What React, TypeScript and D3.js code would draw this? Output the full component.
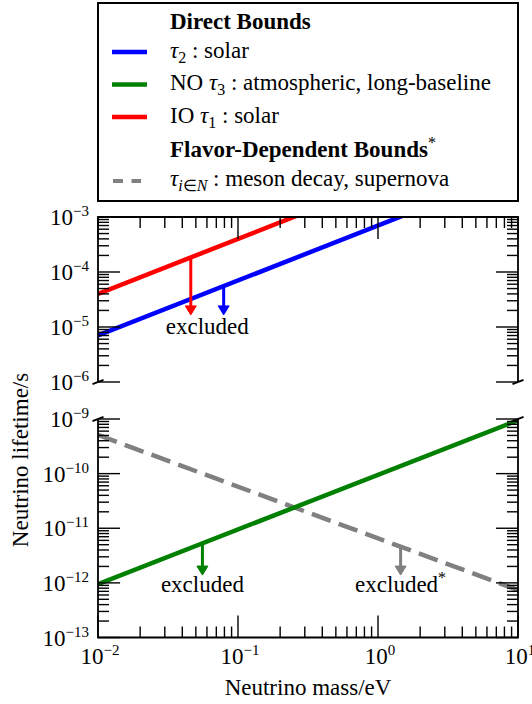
import React from 'react';
import * as d3 from 'd3';

// ---- data ----
const massDomain = [0.01, 10];
const topTauDomain = [1e-6, 1e-3];
const bottomTauDomain = [1e-13, 1e-9];

const massPoints = [0.01, 10];
const tau2Solar = [7.0e-6, 7.0e-3];
const tau1IOSolar = [4.0e-5, 4.0e-2];
const tau3NO = [9.5e-13, 9.5e-10];
const tauFlavor = [5.1e-10, 7.4e-13];

const topArrowMasses = [0.046, 0.079];
const topArrowTip = 1.66e-5;
const bottomArrowMasses = [0.0557, 1.45];
const bottomArrowTip = 1.39e-12;

const topLabelMass = 0.0603;
const topLabelTau = 7.5e-6;
const bottomLabelMasses = [0.0557, 1.45];
const bottomLabelTau = 6.8e-13;

const xTickExps = [-2, -1, 0, 1];
const topYTickExps = [-6, -5, -4, -3];
const bottomYTickExps = [-13, -12, -11, -10, -9];

const BLUE = '#0000ff';
const GREEN = '#008000';
const RED = '#ff0000';
const GRAY = '#808080';
const FONT = '"Liberation Serif", "Times New Roman", serif';

// ---- layout ----
const W = 532, H = 704;
const X0 = 98, X1 = 518;
const TOP0 = 217, TOP1 = 382;
const BOT0 = 419, BOT1 = 637.5;

const x = d3.scaleLog().domain(massDomain).range([X0, X1]);
const yTop = d3.scaleLog().domain(topTauDomain).range([TOP1, TOP0]);
const yBot = d3.scaleLog().domain(bottomTauDomain).range([BOT1, BOT0]);

function logInterp(ms: number[], ts: number[], m: number) {
  const lm = ms.map(Math.log10), lt = ts.map(Math.log10);
  const t = (Math.log10(m) - lm[0]) / (lm[1] - lm[0]);
  return Math.pow(10, lt[0] + t * (lt[1] - lt[0]));
}

function logTicks(domain: number[]) {
  const out: { v: number; major: boolean }[] = [];
  const e0 = Math.floor(Math.log10(domain[0]) + 1e-9);
  const e1 = Math.ceil(Math.log10(domain[1]) - 1e-9);
  for (let e = e0; e <= e1; e++) {
    for (let k = 1; k <= 9; k++) {
      const v = k * Math.pow(10, e);
      if (v >= domain[0] * 0.9999 && v <= domain[1] * 1.0001) out.push({ v, major: k === 1 });
    }
  }
  return out;
}

function Arrow({ xp, y0, y1, color }: { xp: number; y0: number; y1: number; color: string }) {
  const hl = 9, hw = 5.5;
  return (
    <g>
      <line x1={xp} x2={xp} y1={y0} y2={y1 - hl + 1} stroke={color} strokeWidth={3} />
      <path d={`M${xp - hw},${y1 - hl} L${xp + hw},${y1 - hl} L${xp},${y1} Z`} fill={color} stroke={color} strokeWidth={1} strokeLinejoin="round" />
    </g>
  );
}

function TickLabel({ exp, xp, yp, anchor }: { exp: number; xp: number; yp: number; anchor: string }) {
  const s = exp < 0 ? '\u2212' + Math.abs(exp) : String(exp);
  return (
    <text x={xp} y={yp} textAnchor={anchor} fontFamily={FONT} fontSize={23}>
      10<tspan dy={-9} fontSize={15}>{s}</tspan>
    </text>
  );
}

export default function App() {
  const xTicks = logTicks(massDomain);
  const topYTicks = logTicks(topTauDomain);
  const botYTicks = logTicks(bottomTauDomain);

  const lineTop = d3.line<number>().x((_, i) => x(massPoints[i])).y((d) => yTop(d));
  const lineBot = d3.line<number>().x((_, i) => x(massPoints[i])).y((d) => yBot(d));

  const spine = { stroke: '#000', strokeWidth: 1.8, fill: 'none' };
  const tickW = 1.4;
  const MAJ = 22, MIN = 11;

  const brk = (cx: number, cy: number, k: string) => (
    <line key={k} x1={cx - 5.5} y1={cy + 2.2} x2={cx + 5.5} y2={cy - 2.2} stroke="#000" strokeWidth={1.8} />
  );

  return (
    <svg width={W} height={H} style={{ position: 'absolute', left: 0, top: 0, background: '#fff' }} xmlns="http://www.w3.org/2000/svg">
      <defs>
        <clipPath id="clipTop"><rect x={X0} y={TOP0} width={X1 - X0} height={TOP1 - TOP0} /></clipPath>
        <clipPath id="clipBot"><rect x={X0} y={BOT0} width={X1 - X0} height={BOT1 - BOT0} /></clipPath>
      </defs>
      <rect x={0} y={0} width={W} height={H} fill="#fff" />

      {/* ---- legend ---- */}
      <rect x={98} y={3} width={420} height={198} fill="#fff" stroke="#000" strokeWidth={2} />
      <g fontFamily={FONT} fontSize={23}>
        <text x={170} y={29} fontWeight="bold">Direct Bounds</text>

        <line x1={112} x2={147} y1={52} y2={52} stroke={BLUE} strokeWidth={4.5} />
        <text x={170} y={58}>
          <tspan fontStyle="italic">τ</tspan><tspan fontSize={16} dy={5}>2</tspan><tspan dy={-5}> : solar</tspan>
        </text>

        <line x1={112} x2={147} y1={84.5} y2={84.5} stroke={GREEN} strokeWidth={4.5} />
        <text x={170} y={90}>
          NO <tspan fontStyle="italic">τ</tspan><tspan fontSize={16} dy={5}>3</tspan><tspan dy={-5}> : atmospheric, long-baseline</tspan>
        </text>

        <line x1={112} x2={147} y1={117} y2={117} stroke={RED} strokeWidth={4.5} />
        <text x={170} y={122.5}>
          IO <tspan fontStyle="italic">τ</tspan><tspan fontSize={16} dy={5}>1</tspan><tspan dy={-5}> : solar</tspan>
        </text>

        <text x={170} y={157} fontWeight="bold">
          Flavor-Dependent Bounds<tspan fontSize={16} dy={-9} fontWeight="normal">*</tspan>
        </text>

        <line x1={113} x2={141} y1={181} y2={181} stroke={GRAY} strokeWidth={4} strokeDasharray="10 8.5" />
        <text x={170} y={186}>
          <tspan fontStyle="italic">τ</tspan><tspan fontSize={16} dy={5}><tspan fontStyle="italic">i</tspan>∈<tspan fontStyle="italic">N</tspan></tspan><tspan dy={-5}> : meson decay, supernova</tspan>
        </text>
      </g>

      {/* ---- top panel ---- */}
      <g clipPath="url(#clipTop)">
        <path d={lineTop(tau1IOSolar) || ''} stroke={RED} strokeWidth={4.5} fill="none" />
        <path d={lineTop(tau2Solar) || ''} stroke={BLUE} strokeWidth={4.5} fill="none" />
      </g>
      <Arrow xp={x(topArrowMasses[0])} y0={yTop(logInterp(massPoints, tau1IOSolar, topArrowMasses[0]))} y1={yTop(topArrowTip)} color={RED} />
      <Arrow xp={x(topArrowMasses[1])} y0={yTop(logInterp(massPoints, tau2Solar, topArrowMasses[1]))} y1={yTop(topArrowTip)} color={BLUE} />
      <text x={x(topLabelMass)} y={yTop(topLabelTau)} textAnchor="middle" fontFamily={FONT} fontSize={23}>excluded</text>

      {/* top ticks */}
      {xTicks.map((t, i) => (
        <line key={'xt' + i} x1={x(t.v)} x2={x(t.v)} y1={TOP0} y2={TOP0 + (t.major ? MAJ : MIN)} stroke="#000" strokeWidth={tickW} />
      ))}
      {topYTicks.map((t, i) => (
        <g key={'yt' + i}>
          <line x1={X0} x2={X0 + (t.major ? MAJ : MIN)} y1={yTop(t.v)} y2={yTop(t.v)} stroke="#000" strokeWidth={tickW} />
          <line x1={X1} x2={X1 - (t.major ? MAJ : MIN)} y1={yTop(t.v)} y2={yTop(t.v)} stroke="#000" strokeWidth={tickW} />
        </g>
      ))}
      <path d={`M${X0},${TOP1} L${X0},${TOP0} L${X1},${TOP0} L${X1},${TOP1}`} {...spine} />
      {brk(X0, TOP1, 'b1')}
      {brk(X1, TOP1, 'b2')}
      {topYTickExps.map((e) => (
        <TickLabel key={'tl' + e} exp={e} xp={89} yp={yTop(Math.pow(10, e)) + 8} anchor="end" />
      ))}

      {/* ---- bottom panel ---- */}
      <g clipPath="url(#clipBot)">
        <path d={lineBot(tauFlavor) || ''} stroke={GRAY} strokeWidth={4.5} fill="none" strokeDasharray="20 8.5" />
        <path d={lineBot(tau3NO) || ''} stroke={GREEN} strokeWidth={4.5} fill="none" />
      </g>
      <Arrow xp={x(bottomArrowMasses[0])} y0={yBot(logInterp(massPoints, tau3NO, bottomArrowMasses[0]))} y1={yBot(bottomArrowTip)} color={GREEN} />
      <Arrow xp={x(bottomArrowMasses[1])} y0={yBot(logInterp(massPoints, tauFlavor, bottomArrowMasses[1]))} y1={yBot(bottomArrowTip)} color={GRAY} />
      <text x={x(bottomLabelMasses[0])} y={yBot(bottomLabelTau)} textAnchor="middle" fontFamily={FONT} fontSize={23}>excluded</text>
      <text x={x(bottomLabelMasses[1])} y={yBot(bottomLabelTau)} textAnchor="middle" fontFamily={FONT} fontSize={23}>
        excluded<tspan fontSize={16} dy={-9}>*</tspan>
      </text>

      {xTicks.map((t, i) => (
        <line key={'xb' + i} x1={x(t.v)} x2={x(t.v)} y1={BOT1} y2={BOT1 - (t.major ? MAJ : MIN)} stroke="#000" strokeWidth={tickW} />
      ))}
      {botYTicks.map((t, i) => (
        <g key={'yb' + i}>
          <line x1={X0} x2={X0 + (t.major ? MAJ : MIN)} y1={yBot(t.v)} y2={yBot(t.v)} stroke="#000" strokeWidth={tickW} />
          <line x1={X1} x2={X1 - (t.major ? MAJ : MIN)} y1={yBot(t.v)} y2={yBot(t.v)} stroke="#000" strokeWidth={tickW} />
        </g>
      ))}
      <path d={`M${X0},${BOT0} L${X0},${BOT1} L${X1},${BOT1} L${X1},${BOT0}`} {...spine} />
      {brk(X0, BOT0, 'b3')}
      {brk(X1, BOT0, 'b4')}
      {bottomYTickExps.map((e) => (
        <TickLabel key={'bl' + e} exp={e} xp={89} yp={yBot(Math.pow(10, e)) + 8} anchor="end" />
      ))}
      {xTickExps.map((e) => (
        <TickLabel key={'xl' + e} exp={e} xp={x(Math.pow(10, e)) + 2} yp={664} anchor="middle" />
      ))}

      {/* axis labels */}
      <text x={308} y={695} textAnchor="middle" fontFamily={FONT} fontSize={23}>Neutrino mass/eV</text>
      <text transform="translate(28,460) rotate(-90)" textAnchor="middle" fontFamily={FONT} fontSize={23}>Neutrino lifetime/s</text>
    </svg>
  );
}
